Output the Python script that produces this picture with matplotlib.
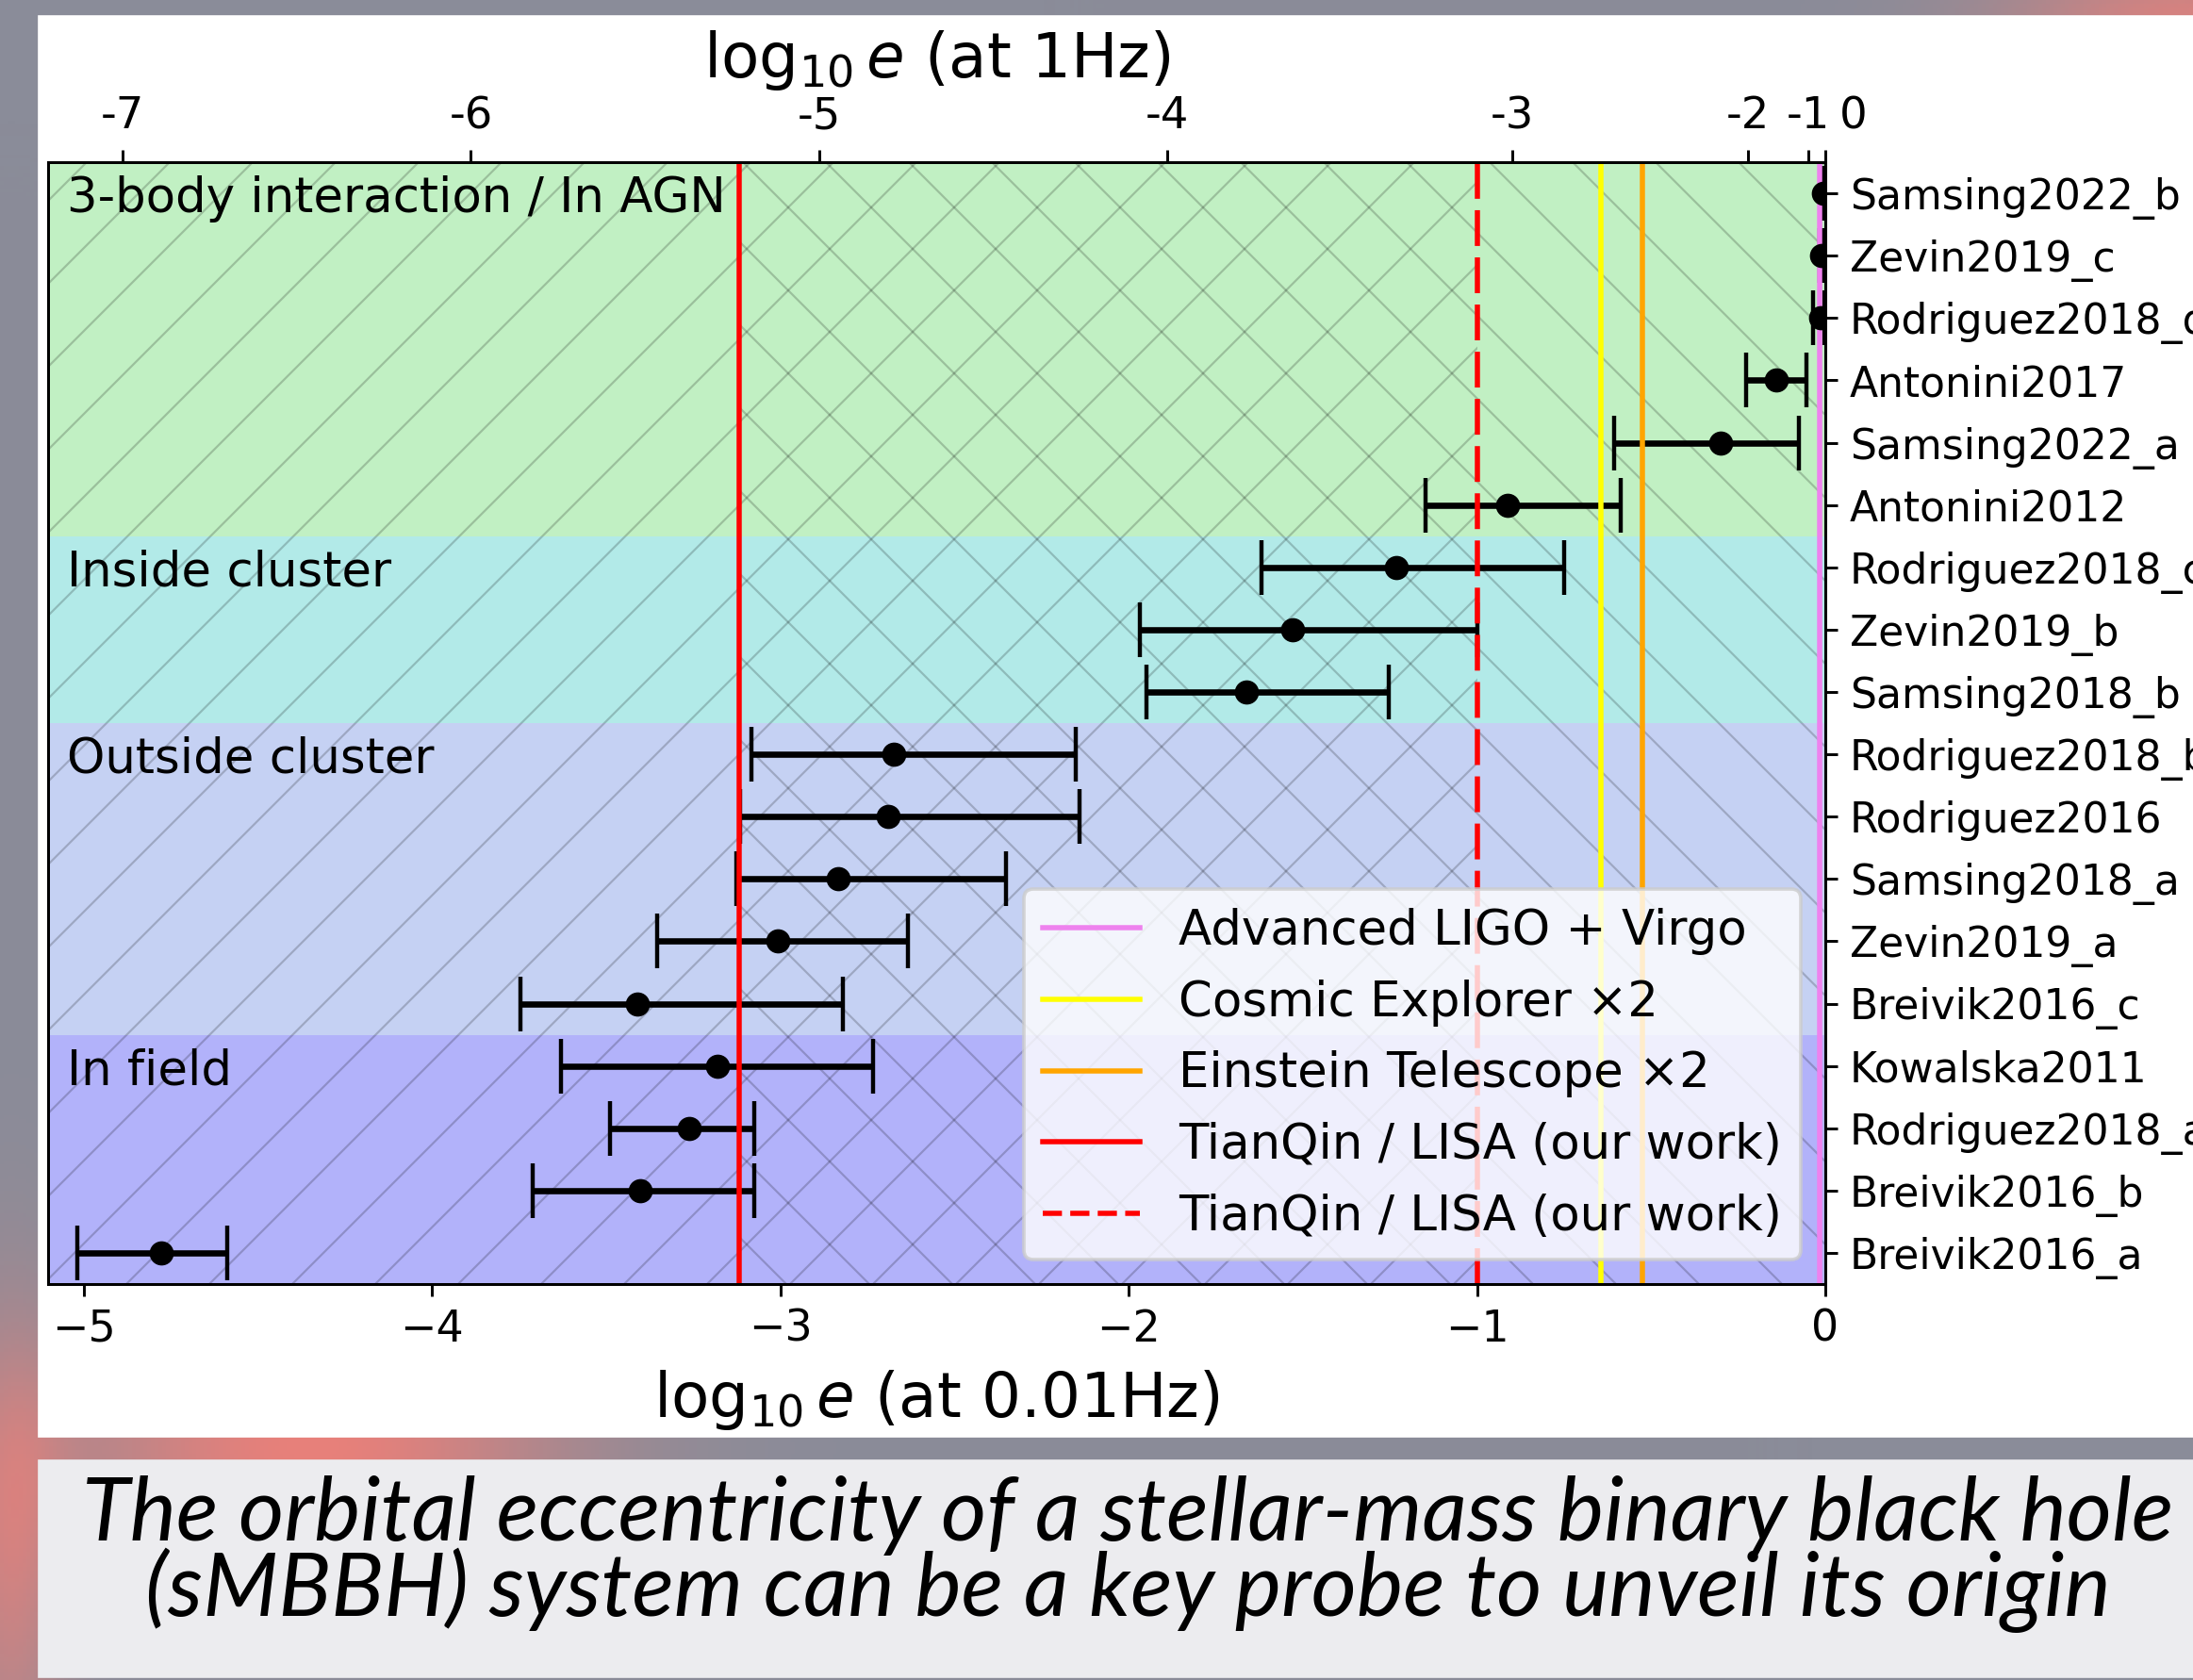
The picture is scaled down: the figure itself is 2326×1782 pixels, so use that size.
import matplotlib
matplotlib.use('Agg')

import matplotlib.pyplot as plt
import numpy as np
from matplotlib.patches import Rectangle
from matplotlib.lines import Line2D

########
# data #
########
names = ['Samsing2022_b', 'Zevin2019_c', 'Rodriguez2018_d', 'Antonini2017',
         'Samsing2022_a', 'Antonini2012', 'Rodriguez2018_c', 'Zevin2019_b',
         'Samsing2018_b', 'Rodriguez2018_b', 'Rodriguez2016', 'Samsing2018_a',
         'Zevin2019_a', 'Breivik2016_c', 'Kowalska2011', 'Rodriguez2018_a',
         'Breivik2016_b', 'Breivik2016_a']
# log10 e at 0.01Hz: central value, lower end, upper end
centers = [-0.006, -0.010, -0.013, -0.141, -0.300, -0.912, -1.233, -1.530,
           -1.663, -2.675, -2.691, -2.835, -3.008, -3.410, -3.181, -3.262,
           -3.402, -4.779]
lowers = [-0.009, -0.015, -0.036, -0.228, -0.607, -1.149, -1.618, -1.968,
          -1.948, -3.084, -3.116, -3.128, -3.353, -3.748, -3.631, -3.490,
          -3.712, -5.020]
uppers = [-0.003, -0.005, -0.003, -0.054, -0.077, -0.587, -0.751, -1.000,
          -1.253, -2.153, -2.141, -2.353, -2.635, -2.820, -2.735, -3.074,
          -3.074, -4.588]

# formation channels, first and last row of each
regions = ['3-body interaction / In AGN', 'Inside cluster', 'Outside cluster', 'In field']
region_first = [0, 6, 9, 14]
region_last = [5, 8, 13, 17]
region_colors = ['#c1f0c3', '#b2eae8', '#c5d1f3', '#b2b2fa']

# detector thresholds (log10 e at 0.01Hz)
detectors = ['Advanced LIGO + Virgo', 'Cosmic Explorer ×2', 'Einstein Telescope ×2',
             'TianQin / LISA (our work)', 'TianQin / LISA (our work)']
thresholds = [-0.015, -0.644, -0.525, -3.12, -1.0]
det_colors = ['violet', 'yellow', 'orange', 'red', 'red']
det_styles = ['-', '-', '-', '-', '--']

# top axis: log10 e at 1Hz, placed on the 0.01Hz scale
top_pos = [-4.889, -3.889, -2.889, -1.889, -0.90, -0.222, -0.049, 0.0]
top_labels = ['-7', '-6', '-5', '-4', '-3', '-2', '-1', '    0']

caption = ['The orbital eccentricity of a stellar-mass binary black hole',
           '(sMBBH) system can be a key probe to unveil its origin']

##########
# figure #
##########
W, H = 2326, 1782
DPI = 264   # hatch cell is one inch, so this sets the hatch spacing
plt.rcParams['hatch.linewidth'] = 0.6
fig = plt.figure(figsize=(W / DPI, H / DPI), dpi=DPI, facecolor='#8a8c99')

# slide background with a faint reddish glow
bg = fig.add_axes([0, 0, 1, 1], zorder=-10)
yy, xx = np.mgrid[0:H:4, 0:W:4]
glow = np.exp(-(((xx - 330) / 260) ** 2 + ((yy - 1535) / 120) ** 2))
glow += 0.7 * np.exp(-(((xx - 10) / 60) ** 2 + ((yy - 1650) / 250) ** 2))
glow += 0.8 * np.exp(-(((xx - 2326) / 200) ** 2 + ((yy - 10) / 40) ** 2))
glow = np.clip(glow, 0, 1)[..., None]
base = np.array([138, 140, 153]) / 255
warm = np.array([232, 128, 122]) / 255
bg.imshow(base * (1 - glow) + warm * glow, aspect='auto', extent=[0, 1, 0, 1])
bg.axis('off')

# slide panels
fig.add_artist(Rectangle((42 / W, 1 - 1523 / H), 1, (1523 - 18) / H,
                         transform=fig.transFigure, color='white', zorder=0))
fig.add_artist(Rectangle((42 / W, 1 - 1778 / H), 1, (1778 - 1550) / H,
                         transform=fig.transFigure, color='#ececef', zorder=0))

ax = fig.add_axes([51 / W, 1 - 1362 / H, (1936 - 51) / W, (1362 - 172) / H])
xmin = -5.103
ax.set_xlim(xmin, 0)
ax.set_ylim(len(names) - 0.5, -0.5)

# coloured bands + labels
for name, r0, r1, c in zip(regions, region_first, region_last, region_colors):
    ax.axhspan(r0 - 0.5, r1 + 0.5, color=c, lw=0, zorder=0)
    ax.text(-5.05, r0, name, va='center_baseline', ha='left', fontsize=14, zorder=4)

# hatched detectable ranges
ax.axvspan(xmin, thresholds[4], facecolor='none', edgecolor='k', alpha=0.2,
           hatch='/', lw=0, zorder=0.5)
ax.axvspan(thresholds[3], 0, facecolor='none', edgecolor='k', alpha=0.2,
           hatch='\\', lw=0, zorder=0.5)

# literature predictions
rows = list(range(len(names)))
xerr = [[c - l for c, l in zip(centers, lowers)],
        [u - c for c, u in zip(centers, uppers)]]
ax.errorbar(centers, rows, xerr=xerr, fmt='o', color='k', ms=6,
            elinewidth=1.8, capsize=8, capthick=1.2)

# detector thresholds
handles = []
for x, c, ls, lab in zip(thresholds, det_colors, det_styles, detectors):
    if ls == '--':
        ax.axvline(x, color=c, lw=1.5, dashes=(6.9, 2.2))
    else:
        ax.axvline(x, color=c, ls=ls, lw=1.5)
    handles.append(Line2D([], [], color=c, ls=ls, lw=1.5, label=lab))

ax.legend(handles=handles, loc='lower right', fontsize=14)

ax.set_xticks([-5, -4, -3, -2, -1, 0])
ax.tick_params(axis='x', labelsize=12.5)
ax.set_xlabel(r'$\log_{10}e$ (at 0.01Hz)', fontsize=18, labelpad=4.9)

ax.yaxis.tick_right()
ax.set_yticks(rows)
ax.set_yticklabels(names, fontsize=12.0)

# top axis
ax2 = ax.twiny()
ax2.set_xlim(ax.get_xlim())
ax2.set_xticks(top_pos)
ax2.set_xticklabels(top_labels, fontsize=12.7)
ax2.set_xlabel(r'$\log_{10}e$ (at 1Hz)', fontsize=18, labelpad=5.4)

###########
# caption #
###########
renderer = fig.canvas.get_renderer()
cap1 = fig.text(1196 / W, 1 - 1607 / H, caption[0], family='Lato', style='italic',
                ha='center', va='center', fontsize=24)
w = cap1.get_window_extent(renderer).width
fs = 24 * 2221 / w
cap1.set_fontsize(fs)
fig.text(1196 / W, 1 - 1687 / H, caption[1], family='Lato', style='italic',
         ha='center', va='center', fontsize=fs)

plt.savefig('out.png', dpi=DPI, facecolor=fig.get_facecolor())
